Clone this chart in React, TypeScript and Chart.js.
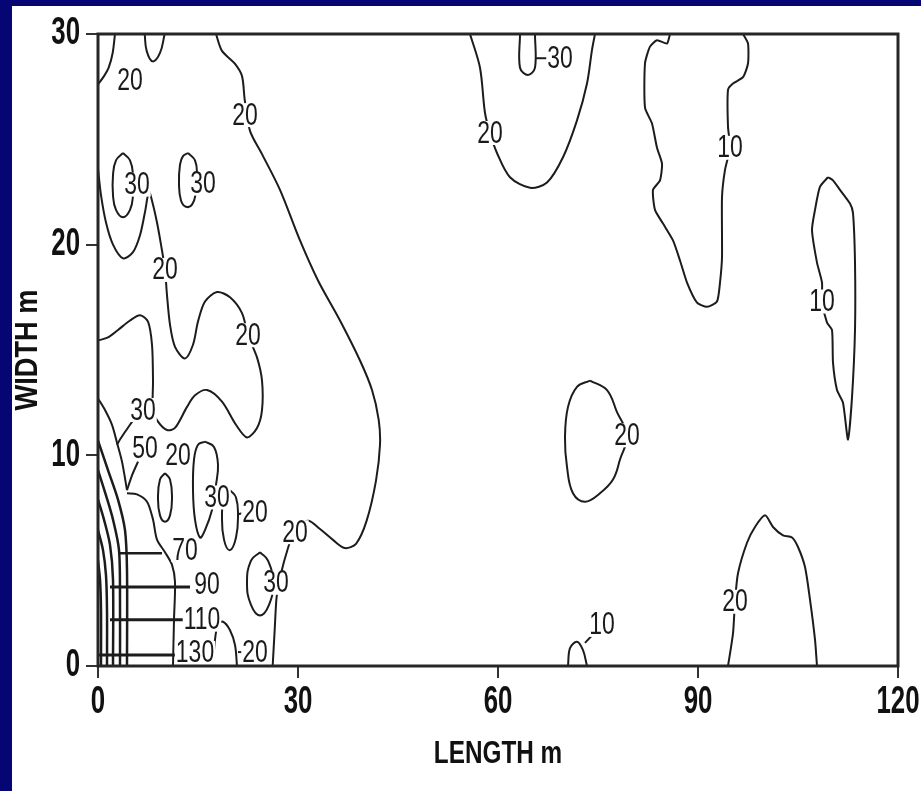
import React, { useEffect, useRef } from 'react';
import { Chart, registerables } from 'chart.js';

Chart.register(...registerables);

type Pt = [number, number];

const FONT = '"Liberation Sans", Arial, sans-serif';

// Axis ranges and tick values (LENGTH m along x, WIDTH m along y)
const lengthTicks = [0, 30, 60, 90, 120];
const widthTicks = [0, 10, 20, 30];
const lengthTitle = 'LENGTH m';
const widthTitle = 'WIDTH m';

// ---- Contour lines, points as [length m, width m] ----
const c20Main: Pt[] = [
  [17.7, 30], [18.6, 29.2], [20.5, 28.6], [21.6, 28.0], [22.0, 26.9], [22.8, 25.4], [24.6, 24.3],
  [27.3, 22.6], [30.3, 20.2], [33.0, 18.3], [36.3, 16.4], [39.3, 14.5], [41.1, 13.1], [42.1, 11.7],
  [42.3, 10.5], [41.7, 8.8], [40.3, 6.9], [38.7, 5.8], [37.0, 5.6], [35.2, 6.0], [33.3, 6.5],
  [31.5, 6.9], [29.5, 6.4], [28.5, 5.6], [27.3, 4.2], [26.8, 3.3], [26.5, 1.7], [26.2, 0],
];
const c20Corner: Pt[] = [[2.55, 30], [2.2, 29.1], [1.6, 28.4], [0.9, 28.0], [0, 27.6]];
const c20TopU: Pt[] = [[7.0, 30], [7.3, 29.2], [8.2, 28.7], [9.3, 29.1], [10.0, 30]];
const c30LoopA: Pt[] = [
  [3.75, 24.35], [4.8, 24.0], [5.25, 23.3], [5.25, 22.35], [4.8, 21.65], [3.75, 21.3],
  [2.7, 21.65], [2.25, 22.35], [2.25, 23.3], [2.7, 24.0], [3.75, 24.35],
];
const c30LoopB: Pt[] = [
  [13.5, 24.35], [14.55, 24.0], [14.85, 23.3], [14.7, 22.5], [14.1, 21.9], [13.2, 21.8],
  [12.45, 22.1], [12.15, 22.9], [12.3, 23.8], [12.75, 24.2], [13.5, 24.35],
];
const c20West: Pt[] = [
  [0, 23.6], [0.45, 22.35], [1.2, 21.05], [2.25, 20.0], [3.75, 19.35], [5.25, 19.65], [6.3, 20.45],
  [7.05, 21.55], [7.65, 22.5], [8.25, 21.9], [8.85, 21.05], [9.45, 20.0], [10.05, 18.8], [10.35, 17.6],
  [10.8, 16.2], [11.55, 15.15], [13.05, 14.6], [14.25, 15.25], [15.0, 16.35], [16.05, 17.3],
  [17.85, 17.75], [19.8, 17.5], [21.6, 16.75], [22.5, 15.7], [23.85, 14.65], [24.6, 13.55],
  [24.6, 12.15], [23.85, 11.3], [22.35, 10.85], [20.7, 11.45], [18.6, 12.55], [16.35, 13.1],
  [14.55, 12.85], [13.35, 12.3], [11.55, 11.3], [10.35, 11.2], [9.0, 11.6], [8.25, 12.15],
  [8.25, 13.55], [8.1, 15.25], [7.5, 16.35], [6.3, 16.65], [4.8, 16.4], [3.0, 15.95], [1.5, 15.6],
  [0, 15.45],
];
const c30Left: Pt[] = [[0, 12.7], [1.05, 12.15], [2.1, 11.45], [2.85, 10.6], [3.6, 9.7], [4.35, 8.35]];
const lead30: Pt[] = [[6.3, 12.1], [4.8, 11.45], [3.3, 10.75], [2.85, 10.5]];
const lead50: Pt[] = [[6.0, 9.7], [5.1, 9.05], [4.35, 8.35]];
const c70: Pt[] = [
  [4.35, 8.2], [5.85, 8.15], [7.35, 7.8], [8.25, 6.95], [8.85, 6.0], [10.05, 5.4], [11.1, 4.8],
  [11.55, 4.0], [11.4, 2.2], [11.25, 0],
];
const c90: Pt[] = [[0, 10.7], [1.5, 9.3], [3.0, 7.9], [4.05, 6.45], [4.35, 4.55], [4.35, 0]];
const c110: Pt[] = [[0, 9.3], [1.2, 8.1], [2.25, 6.95], [3.15, 5.5], [3.3, 3.1], [3.3, 0]];
const c130: Pt[] = [[0, 7.9], [0.9, 6.95], [1.8, 5.75], [2.25, 4.1], [2.25, 0]];
const c150: Pt[] = [[0, 6.45], [0.75, 5.5], [1.2, 4.3], [1.35, 2.65], [1.35, 0]];
const c170: Pt[] = [[0, 5.0], [0.3, 4.1], [0.45, 2.65], [0.45, 0]];
const lead70: Pt[] = [[3.3, 5.35], [9.6, 5.35]];
const lead90: Pt[] = [[1.8, 3.75], [13.8, 3.75]];
const lead110: Pt[] = [[1.8, 2.2], [13.05, 2.2]];
const lead130: Pt[] = [[0, 0.52], [12.0, 0.52]];
const c0Loop: Pt[] = [
  [10.05, 9.15], [10.8, 8.85], [11.1, 8.0], [10.8, 7.15], [10.05, 6.85], [9.3, 7.15], [9.0, 8.0],
  [9.3, 8.85], [10.05, 9.15],
];
const c30Tall: Pt[] = [
  [16.05, 10.65], [17.4, 10.4], [18.0, 9.55], [17.7, 8.6], [17.1, 7.4], [16.05, 6.45], [15.3, 6.1],
  [14.55, 6.95], [14.25, 8.35], [14.4, 9.8], [15.0, 10.5], [16.05, 10.65],
];
const c20Tall: Pt[] = [
  [19.8, 8.35], [20.7, 8.0], [21.0, 7.15], [20.7, 6.1], [19.8, 5.5], [18.9, 6.0], [18.6, 7.15],
  [18.9, 8.0], [19.8, 8.35],
];
const lead20Tall: Pt[] = [[21.0, 7.2], [22.2, 7.3]];
const c30Low: Pt[] = [
  [24.3, 5.4], [25.5, 5.0], [26.25, 3.95], [25.65, 2.9], [24.3, 2.4], [22.95, 2.9], [22.35, 3.95],
  [22.95, 5.0], [24.3, 5.4],
];
const c20Arch: Pt[] = [[17.25, 0], [17.55, 1.25], [18.0, 1.95], [18.75, 2.1], [19.8, 1.7], [20.55, 1.0], [20.85, 0]];
const lead20Arch: Pt[] = [[21.0, 0.66], [21.9, 0.66]];
const c20Bay: Pt[] = [
  [55.8, 30], [57.3, 28.4], [58.05, 26.25], [58.8, 25.3], [59.85, 24.35], [61.8, 23.2], [64.8, 22.7],
  [67.35, 22.95], [69.75, 24.15], [71.85, 25.9], [73.35, 27.65], [74.1, 29.25], [74.55, 30],
];
const c30Notch: Pt[] = [[63.3, 30], [63.3, 28.4], [64.5, 28.05], [65.55, 28.4], [65.55, 30]];
const lead30Notch: Pt[] = [[65.55, 28.85], [67.5, 28.85]];
const c10North: Pt[] = [
  [85.8, 30], [85.35, 29.55], [83.85, 29.7], [82.8, 29.4], [82.05, 28.6], [82.05, 26.5], [83.1, 25.75],
  [83.85, 24.6], [84.6, 23.85], [84.3, 23.05], [83.25, 22.6], [83.55, 21.65], [84.75, 21.0],
  [86.25, 20.2], [87.3, 19.25], [88.35, 18.2], [89.85, 17.25], [91.35, 17.05], [92.85, 17.3],
  [93.3, 18.2], [93.6, 19.4], [93.6, 22.25], [94.05, 23.55], [94.8, 24.6], [94.5, 25.6], [94.5, 27.35],
  [95.25, 27.65], [96.75, 27.95], [97.5, 28.6], [97.5, 29.55], [96.75, 30],
];
const c10East: Pt[] = [
  [109.5, 23.2], [108.3, 22.75], [107.55, 21.65], [107.1, 20.7], [107.85, 19.15], [108.6, 18.2],
  [108.6, 17.3], [109.35, 16.3], [110.1, 15.95], [110.25, 14.4], [110.85, 13.1], [111.75, 12.5],
  [112.5, 10.75], [113.1, 12.75], [113.55, 15.95], [113.55, 19.15], [113.25, 21.5], [112.8, 21.95],
  [111.3, 22.6], [110.25, 23.05], [109.5, 23.2],
];
const c20Island: Pt[] = [
  [73.8, 13.55], [76.35, 13.1], [77.85, 12.05], [79.35, 10.95], [78.3, 9.8], [77.25, 8.85], [75.3, 8.2],
  [73.05, 7.8], [71.25, 8.2], [70.35, 9.45], [70.05, 10.85], [70.5, 12.3], [71.85, 13.25], [73.8, 13.55],
];
const c20South: Pt[] = [
  [94.5, 0], [95.25, 1.55], [95.55, 3.05], [96.0, 4.4], [97.35, 5.85], [98.55, 6.6], [100.05, 7.15],
  [101.25, 6.6], [102.75, 6.2], [104.1, 6.1], [105.0, 5.65], [106.05, 4.7], [106.8, 3.15], [107.55, 1.25],
  [107.85, 0],
];
const c10South: Pt[] = [[70.5, 0], [70.8, 0.85], [71.85, 1.15], [72.75, 0.75], [73.35, 0]];
const lead10South: Pt[] = [[73.05, 1.1], [74.55, 1.6]];

// Contour level labels: text and position [length m, width m]
const labelText = [
  '20', '20', '30', '30', '20', '20', '30', '50', '20', '30', '20', '20', '70', '30', '90',
  '110', '130', '20', '10', '20', '20', '10', '10', '20', '30',
];
const labelLength = [
  4.8, 22.05, 5.85, 15.75, 10.05, 22.5, 6.75, 7.05, 12.0, 17.85, 23.55, 29.55, 13.05, 26.7, 16.35,
  15.6, 14.55, 23.55, 75.6, 95.55, 79.35, 94.8, 108.6, 58.8, 69.3,
];
const labelWidth = [
  27.8, 26.15, 22.85, 22.9, 18.8, 15.7, 12.15, 10.35, 10.0, 8.0, 7.3, 6.35, 5.5, 3.95, 3.85,
  2.2, 0.62, 0.66, 1.95, 3.05, 10.95, 24.6, 17.3, 25.3, 28.85,
];

// Which lines are drawn smooth, which are kept straight, and which are heavier
const lines: { pts: Pt[]; tension: number; width?: number }[] = [
  { pts: c20Main, tension: 0.3 },
  { pts: c20Corner, tension: 0.3 },
  { pts: c20TopU, tension: 0.4 },
  { pts: c30LoopA, tension: 0.45 },
  { pts: c30LoopB, tension: 0.45 },
  { pts: c20West, tension: 0.3 },
  { pts: c30Left, tension: 0.3 },
  { pts: lead30, tension: 0.2 },
  { pts: lead50, tension: 0.2 },
  { pts: c70, tension: 0.3 },
  { pts: c90, tension: 0.3, width: 2.5 },
  { pts: c110, tension: 0.3, width: 2.5 },
  { pts: c130, tension: 0.3, width: 2.5 },
  { pts: c150, tension: 0.3, width: 2.5 },
  { pts: c170, tension: 0.3, width: 2.5 },
  { pts: lead70, tension: 0, width: 2.5 },
  { pts: lead90, tension: 0, width: 3 },
  { pts: lead110, tension: 0, width: 3 },
  { pts: lead130, tension: 0, width: 3 },
  { pts: c0Loop, tension: 0.45 },
  { pts: c30Tall, tension: 0.4 },
  { pts: c20Tall, tension: 0.45 },
  { pts: lead20Tall, tension: 0 },
  { pts: c30Low, tension: 0.45 },
  { pts: c20Arch, tension: 0.35 },
  { pts: lead20Arch, tension: 0 },
  { pts: c20Bay, tension: 0.3 },
  { pts: c30Notch, tension: 0.35 },
  { pts: lead30Notch, tension: 0 },
  { pts: c10North, tension: 0.2 },
  { pts: c10East, tension: 0.2 },
  { pts: c20Island, tension: 0.4 },
  { pts: c20South, tension: 0.25 },
  { pts: c10South, tension: 0.35 },
  { pts: lead10South, tension: 0 },
];

const W = 921;
const H = 791;

// Draws text squeezed horizontally, like the narrow lettering of the figure
function narrowText(
  ctx: CanvasRenderingContext2D, text: string, x: number, y: number,
  size: number, squeeze: number, align: CanvasTextAlign, bold = false, rotate = 0,
) {
  ctx.save();
  ctx.translate(x, y);
  if (rotate) ctx.rotate(rotate);
  ctx.scale(squeeze, 1);
  ctx.font = `${bold ? 'bold ' : ''}${size}px ${FONT}`;
  ctx.textAlign = align;
  ctx.textBaseline = 'middle';
  ctx.fillText(text, 0, 0);
  ctx.restore();
}

export default function App() {
  const ref = useRef<HTMLCanvasElement>(null);

  useEffect(() => {
    document.body.style.margin = '0';
    const canvas = ref.current;
    if (!canvas) return;

    const framePlugin = {
      id: 'slideFrame',
      beforeDraw(chart: any) {
        const { ctx } = chart;
        ctx.save();
        ctx.fillStyle = '#050573';
        ctx.fillRect(0, 0, chart.width, chart.height);
        ctx.fillStyle = '#ffffff';
        ctx.fillRect(12, 6, chart.width - 12, chart.height - 6);
        ctx.restore();
      },
      afterDatasetsDraw(chart: any) {
        const { ctx, chartArea: a, scales } = chart;
        const sx = scales.x;
        const sy = scales.y;
        ctx.save();
        // contour level labels, each on a white patch that breaks its line
        ctx.font = `31px ${FONT}`;
        labelText.forEach((t, i) => {
          const px = sx.getPixelForValue(labelLength[i]);
          const py = sy.getPixelForValue(labelWidth[i]);
          const w = ctx.measureText(t).width * 0.74;
          ctx.fillStyle = '#ffffff';
          ctx.fillRect(px - w / 2 - 1, py - 12, w + 2, 24);
          ctx.fillStyle = '#1a1a1a';
          narrowText(ctx, t, px, py + 1, 31, 0.74, 'center');
        });
        // frame
        ctx.strokeStyle = '#262626';
        ctx.lineWidth = 3;
        ctx.strokeRect(a.left, a.top, a.right - a.left, a.bottom - a.top);
        // tick labels
        ctx.fillStyle = '#111111';
        lengthTicks.forEach((v) => {
          narrowText(ctx, String(v), sx.getPixelForValue(v), a.bottom + 37, 38, 0.68, 'center', true);
        });
        widthTicks.forEach((v) => {
          narrowText(ctx, String(v), a.left - 18, sy.getPixelForValue(v), 38, 0.68, 'right', true);
        });
        // axis titles
        narrowText(ctx, lengthTitle, (a.left + a.right) / 2, a.bottom + 88, 32, 0.76, 'center', true);
        narrowText(ctx, widthTitle, 28, (a.top + a.bottom) / 2, 32, 0.85, 'center', true, -Math.PI / 2);
        ctx.restore();
      },
    };

    const chart = new Chart(canvas, {
      type: 'line',
      data: {
        datasets: lines.map((l) => ({
          data: l.pts.map(([x, y]) => ({ x, y })),
          borderColor: '#1c1c1c',
          borderWidth: l.width ?? 2,
          pointRadius: 0,
          tension: l.tension,
          fill: false,
        })),
      },
      options: {
        responsive: false,
        animation: false,
        devicePixelRatio: 1,
        events: [],
        layout: { padding: { top: 34, right: 23, left: 0, bottom: 0 } },
        plugins: { legend: { display: false }, tooltip: { enabled: false } },
        scales: {
          x: {
            type: 'linear',
            min: 0,
            max: 120,
            afterFit: (s: any) => { s.height = 125; },
            afterBuildTicks: (s: any) => { s.ticks = lengthTicks.map((v) => ({ value: v })); },
            ticks: { display: false },
            grid: { display: true, drawOnChartArea: false, drawTicks: true, tickLength: 12, color: '#333', lineWidth: 2 },
            border: { display: false },
          },
          y: {
            type: 'linear',
            min: 0,
            max: 30,
            afterFit: (s: any) => { s.width = 98; },
            afterBuildTicks: (s: any) => { s.ticks = widthTicks.map((v) => ({ value: v })); },
            ticks: { display: false },
            grid: { display: true, drawOnChartArea: false, drawTicks: true, tickLength: 12, color: '#333', lineWidth: 2 },
            border: { display: false },
          },
        },
      },
      plugins: [framePlugin],
    });

    return () => chart.destroy();
  }, []);

  return (
    <div style={{ position: 'fixed', left: 0, top: 0, width: W, height: H }}>
      <canvas ref={ref} width={W} height={H} style={{ width: W, height: H, display: 'block' }} />
    </div>
  );
}
